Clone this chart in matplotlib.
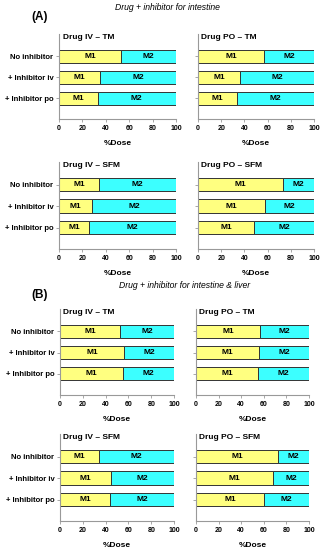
import matplotlib
matplotlib.use("Agg")
import matplotlib.pyplot as plt
import numpy as np

plt.rcParams['font.family'] = ['Liberation Sans', 'DejaVu Sans']

categories = ["No inhibitor", "+ Inhibitor iv", "+ Inhibitor po"]
xticks = [0, 20, 40, 60, 80, 100]

# M1 %Dose for each panel (M2 = 100 - M1)
A_IV_TM = [53, 35, 33]
A_PO_TM = [57, 36, 34]
A_IV_SFM = [34, 28, 26]
A_PO_SFM = [73, 58, 48]
B_IV_TM = [53, 56, 55]
B_PO_TM = [57, 56, 55]
B_IV_SFM = [34, 45, 44]
B_PO_SFM = [73, 68, 60]

panels = [
    ("Drug IV \u2013 TM", A_IV_TM), ("Drug PO \u2013 TM", A_PO_TM),
    ("Drug IV \u2013 SFM", A_IV_SFM), ("Drug PO \u2013 SFM", A_PO_SFM),
    ("Drug IV \u2013 TM", B_IV_TM), ("Drug PO \u2013 TM", B_PO_TM),
    ("Drug IV \u2013 SFM", B_IV_SFM), ("Drug PO \u2013 SFM", B_PO_SFM),
]

W, H = 325, 550
fig = plt.figure(figsize=(W / 100, H / 100), dpi=100)

# pixel boxes: (left, right, top, bottom)
boxes = [
    (59, 176, 34, 119), (198, 314, 34, 119),
    (59, 176, 162, 249), (198, 314, 162, 249),
    (60, 174, 309, 395), (196, 309, 309, 395),
    (60, 174, 434, 521), (196, 309, 434, 521),
]

yellow = "#FFFF80"
cyan = "#3CFFFF"
gray = "#999999"

for (title, m1), (l, r, t, b), idx in zip(panels, boxes, range(8)):
    ax = fig.add_axes([l / W, 1 - b / H, (r - l) / W, (b - t) / H])
    y = np.arange(len(categories))
    m1 = np.array(m1)
    m2 = 100 - m1
    ax.barh(y, m1, height=0.62, color=yellow, edgecolor="#333333", linewidth=0.7)
    ax.barh(y, m2, left=m1, height=0.62, color=cyan, edgecolor="#333333", linewidth=0.7)
    for yi, a, c in zip(y, m1, m2):
        ax.text(a / 2, yi, "M1", ha="center", va="center", fontsize=6, fontweight="bold")
        ax.text(a + c / 2, yi, "M2", ha="center", va="center", fontsize=6, fontweight="bold")
    ax.set_xlim(0, 100)
    ax.set_ylim(3.0, -1.05)
    ax.set_xticks(xticks)
    ax.set_xticklabels([str(v) for v in xticks], fontsize=5, fontweight="bold")
    ax.set_yticks(y)
    if idx % 2 == 0:
        ax.set_yticklabels(categories, fontsize=5.5, fontweight="bold")
    else:
        ax.set_yticklabels([])
    ax.tick_params(axis="both", colors=gray, length=2, width=0.6, labelcolor="black", pad=2)
    for s in ["top", "right"]:
        ax.spines[s].set_visible(False)
    for s in ["left", "bottom"]:
        ax.spines[s].set_color(gray)
        ax.spines[s].set_linewidth(0.8)
    ax.text(0.03, 1.0, title, transform=ax.transAxes, ha="left", va="top",
            fontsize=6, fontweight="bold")
    ax.set_xlabel("%Dose", fontsize=6, fontweight="bold", labelpad=6)

fig.text(167 / W, 1 - 7 / H, "Drug + inhibitor for intestine", ha="center", va="center",
         fontsize=6.2, style="italic")
fig.text(185 / W, 1 - 285 / H, "Drug + inhibitor for intestine & liver", ha="center", va="center",
         fontsize=6.2, style="italic")
fig.text(31 / W, 1 - 17 / H, "(A)", ha="left", va="center", fontsize=8.5, fontweight="bold")
fig.text(31 / W, 1 - 295 / H, "(B)", ha="left", va="center", fontsize=8.5, fontweight="bold")

fig.savefig("out.png", dpi=100)
